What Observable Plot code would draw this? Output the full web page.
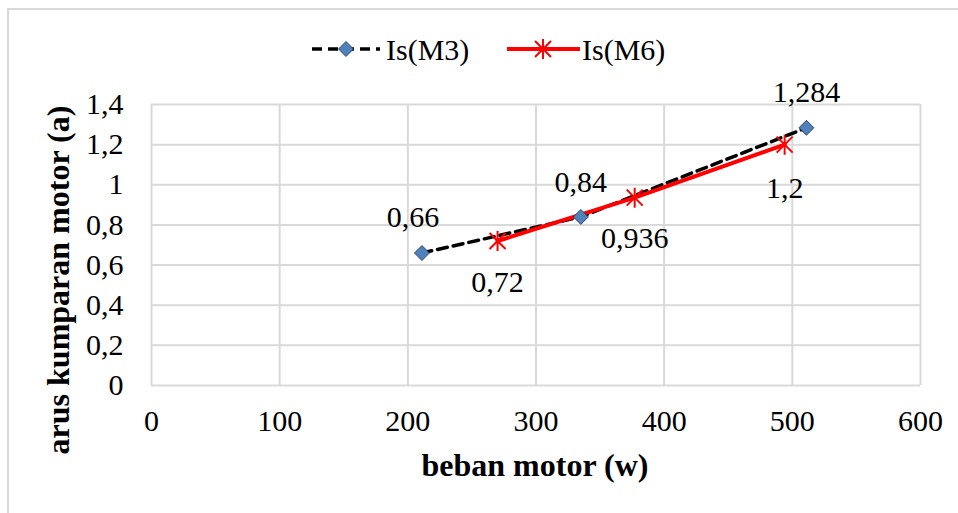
<!DOCTYPE html>
<html>
<head>
<meta charset="utf-8">
<script src="https://cdn.jsdelivr.net/npm/d3@7"></script>
<script src="https://cdn.jsdelivr.net/npm/@observablehq/plot@0.6"></script>
<style>
  html, body { margin: 0; padding: 0; background: #fff; }
  #wrap { position: relative; width: 958px; height: 513px; overflow: hidden; font-family: "Liberation Serif", "Times New Roman", serif; }
  #frame { position: absolute; left: 7px; top: 8px; width: 1000px; height: 600px; border: 2px solid #d9d9d9; box-sizing: border-box; }
  #chart { position: absolute; left: 0; top: 0; }
  #legend { position: absolute; left: 0; top: 30px; width: 958px; height: 40px; }
</style>
</head>
<body>
<div id="wrap">
  <div id="frame"></div>
  <div id="chart"></div>
  <svg id="legend" width="958" height="40"></svg>
</div>
<script>
// Data
const seriesNames = ["Is(M3)", "Is(M6)"];
const m3Load = [211, 335, 511];
const m3Current = [0.66, 0.84, 1.284];
const m6Load = [270, 377, 494];
const m6Current = [0.72, 0.936, 1.2];
const xTicks = [0, 100, 200, 300, 400, 500, 600];
const yTicks = [0, 0.2, 0.4, 0.6, 0.8, 1, 1.2, 1.4];
const xTitle = "beban motor (w)";
const yTitle = "arus kumparan motor (a)";

const m3 = m3Load.map((x, i) => ({x, y: m3Current[i]}));
const m6 = m6Load.map((x, i) => ({x, y: m6Current[i]}));
const comma = v => String(v).replace(".", ",");

// Excel-like star marker: X plus vertical bar
const star = {
  draw(ctx, size) {
    const r = Math.sqrt(size / Math.PI);
    const d = r * 0.8;
    ctx.moveTo(-d, -d); ctx.lineTo(d, d);
    ctx.moveTo(d, -d); ctx.lineTo(-d, d);
    ctx.moveTo(0, -r); ctx.lineTo(0, r);
  }
};
// Square diamond marker
const diamond = {
  draw(ctx, size) {
    const r = Math.sqrt(size / Math.PI);
    ctx.moveTo(0, -r); ctx.lineTo(r, 0); ctx.lineTo(0, r); ctx.lineTo(-r, 0); ctx.closePath();
  }
};

const font = "Liberation Serif, Times New Roman, serif";

const chart = Plot.plot({
  width: 958,
  height: 513,
  marginLeft: 151,
  marginRight: 38,
  marginTop: 104,
  marginBottom: 128,
  style: { fontFamily: font, fontSize: "30px", background: "transparent", color: "#000" },
  x: { domain: [0, 600], ticks: xTicks, label: null },
  y: { domain: [0, 1.4], ticks: yTicks, label: null },
  marks: [
    Plot.gridX(xTicks, { stroke: "#d9d9d9", strokeOpacity: 1, strokeWidth: 2 }),
    Plot.gridY(yTicks, { stroke: "#d9d9d9", strokeOpacity: 1, strokeWidth: 2 }),
    Plot.axisX(xTicks, { tickSize: 0, tickPadding: 24, tickFormat: d => String(d), fontSize: 30, fill: "#000" }),
    Plot.axisY(yTicks, { tickSize: 0, tickPadding: 28, tickFormat: comma, fontSize: 30, fill: "#000" }),
    Plot.line(m3, { x: "x", y: "y", stroke: "#000", strokeWidth: 3.5, strokeDasharray: "10,6" }),
    Plot.line(m6, { x: "x", y: "y", stroke: "#ff0000", strokeWidth: 4 }),
    Plot.dot(m3, { x: "x", y: "y", symbol: diamond, r: 7.5, fill: "#4f81bd", stroke: "#1f2f45", strokeWidth: 0.8 }),
    Plot.dot(m6, { x: "x", y: "y", symbol: star, r: 10, stroke: "#ff0000", strokeWidth: 2, fill: "none" }),
    Plot.text(m3.slice(0, 1), { x: "x", y: "y", text: d => comma(d.y), dx: -9, dy: -36, fontSize: 30, fill: "#000" }),
    Plot.text(m3.slice(1), { x: "x", y: "y", text: d => comma(d.y), dy: -35, fontSize: 30, fill: "#000" }),
    Plot.text(m6.slice(0, 2), { x: "x", y: "y", text: d => comma(d.y), dy: 41, fontSize: 30, fill: "#000" }),
    Plot.text(m6.slice(2), { x: "x", y: "y", text: d => comma(d.y), dy: 44, fontSize: 30, fill: "#000" })
  ]
});
document.getElementById("chart").appendChild(chart);

const svg = d3.select(chart);
svg.append("text")
  .attr("x", 535).attr("y", 469)
  .attr("text-anchor", "middle")
  .attr("dominant-baseline", "middle")
  .attr("font-family", font)
  .attr("font-weight", "bold")
  .attr("font-size", 32)
  .attr("fill", "#000")
  .text(xTitle);
svg.append("text")
  .attr("transform", "translate(62,280) rotate(-90)")
  .attr("text-anchor", "middle")
  .attr("dominant-baseline", "middle")
  .attr("font-family", font)
  .attr("font-weight", "bold")
  .attr("font-size", 32)
  .attr("fill", "#000")
  .text(yTitle);

// Legend
const lg = d3.select("#legend");
const cy = 19;
lg.append("line").attr("x1", 312).attr("x2", 380).attr("y1", cy).attr("y2", cy)
  .attr("stroke", "#000").attr("stroke-width", 3.5).attr("stroke-dasharray", "10,6");
lg.append("path").attr("d", d3.symbol(diamond, Math.PI * 7.5 * 7.5)())
  .attr("transform", `translate(346,${cy})`).attr("fill", "#4f81bd").attr("stroke", "#1f2f45").attr("stroke-width", 0.8);
lg.append("text").attr("x", 386).attr("y", cy).attr("dominant-baseline", "central")
  .attr("font-family", font).attr("font-size", 30).text(seriesNames[0]);
lg.append("line").attr("x1", 507).attr("x2", 580).attr("y1", cy).attr("y2", cy)
  .attr("stroke", "#ff0000").attr("stroke-width", 4);
lg.append("path").attr("d", d3.symbol(star, Math.PI * 10 * 10)())
  .attr("transform", `translate(543,${cy})`).attr("fill", "none").attr("stroke", "#ff0000").attr("stroke-width", 2);
lg.append("text").attr("x", 582).attr("y", cy).attr("dominant-baseline", "central")
  .attr("font-family", font).attr("font-size", 30).text(seriesNames[1]);
</script>
</body>
</html>
